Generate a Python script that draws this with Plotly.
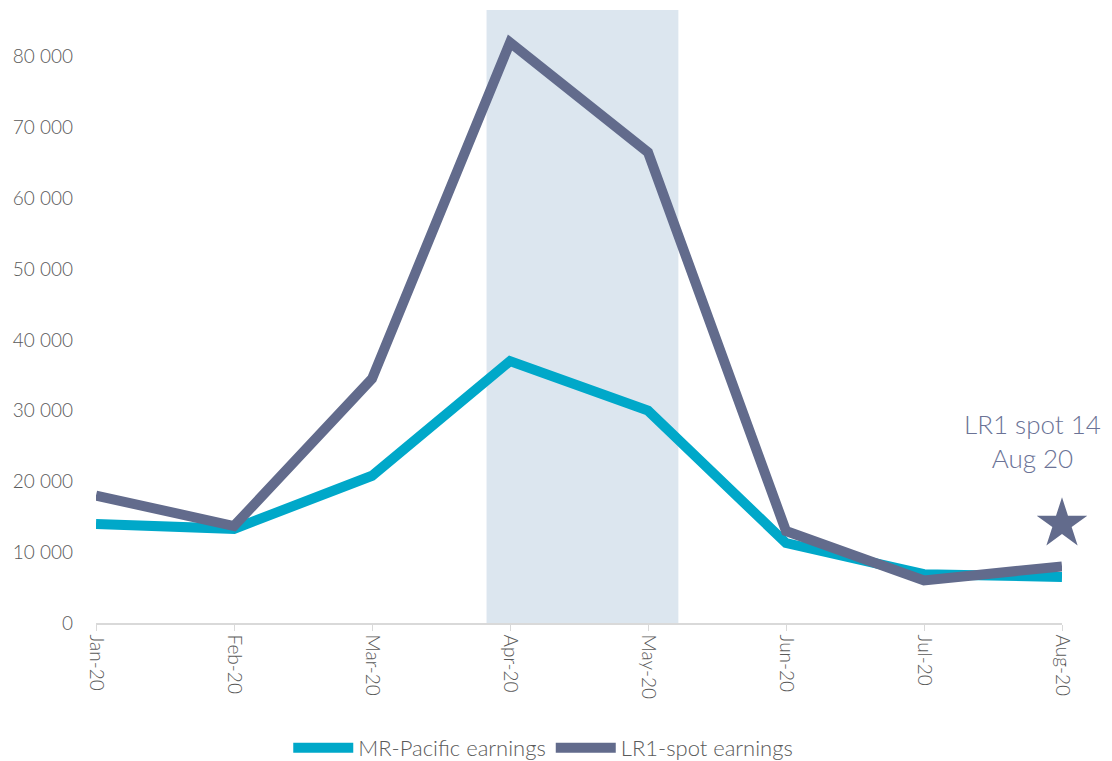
import plotly.graph_objects as go

months = ["Jan-20", "Feb-20", "Mar-20", "Apr-20", "May-20", "Jun-20", "Jul-20", "Aug-20"]
mr_pacific = [14000, 13300, 20800, 37000, 30000, 11300, 6900, 6500]
lr1_spot = [18000, 13700, 34500, 82000, 66500, 13000, 6000, 8000]
star_month = ["Aug-20"]
star_value = [14000]
y_ticks = [0, 10000, 20000, 30000, 40000, 50000, 60000, 70000, 80000]
y_ticktext = ["0", "10 000", "20 000", "30 000", "40 000", "50 000", "60 000", "70 000", "80 000"]

CYAN = "#00a8c9"
SLATE = "#626b8c"
FONT = "Lato"
TXT = "#5a5a5a"

fig = go.Figure()
fig.add_trace(go.Scatter(x=months, y=mr_pacific, mode="lines", name="MR-Pacific earnings",
                         line=dict(color=CYAN, width=10)))
fig.add_trace(go.Scatter(x=months, y=lr1_spot, mode="lines", name="LR1-spot earnings",
                         line=dict(color=SLATE, width=10)))
fig.add_trace(go.Scatter(x=star_month, y=star_value, mode="markers", showlegend=False,
                         cliponaxis=False,
                         marker=dict(symbol="star", size=38, color=SLATE, line=dict(width=0))))

fig.add_shape(type="rect", xref="x", yref="paper", x0=2.83, x1=4.22, y0=0, y1=1,
              fillcolor="#dce6ef", line=dict(width=0), layer="below")

fig.add_annotation(x=7, y=star_value[0], xref="x", yref="y", text="LR1 spot 14<br>Aug 20",
                   showarrow=False, yanchor="bottom", xanchor="center", xshift=-30, yshift=48,
                   font=dict(family=FONT, size=26, color="#6b7396", weight=300), align="center")

fig.update_layout(
    width=1112, height=761,
    margin=dict(l=96, r=50, t=10, b=138, autoexpand=False),
    paper_bgcolor="white", plot_bgcolor="white",
    font=dict(family=FONT, color=TXT),
    showlegend=True,
    legend=dict(orientation="h", x=0.463, xanchor="center", y=-0.204, yanchor="middle",
                font=dict(family=FONT, size=22, color=TXT, weight=300), itemwidth=60,
                traceorder="normal"),
    xaxis=dict(type="category", range=[0, 7], showgrid=False, showline=True, linecolor="#d9d9d9",
               linewidth=1.5, ticks="outside", ticklen=6, tickcolor="#d9d9d9", tickangle=90,
               automargin=False,
               tickfont=dict(family=FONT, size=19, color=TXT, weight=300), zeroline=False),
    yaxis=dict(range=[0, 86600], showgrid=False, showline=False, zeroline=False,
               tickvals=y_ticks, ticktext=y_ticktext, ticks="", ticklabelstandoff=22,
               automargin=False,
               tickfont=dict(family=FONT, size=19, color=TXT, weight=300)),
)

fig.write_html("out.html")
